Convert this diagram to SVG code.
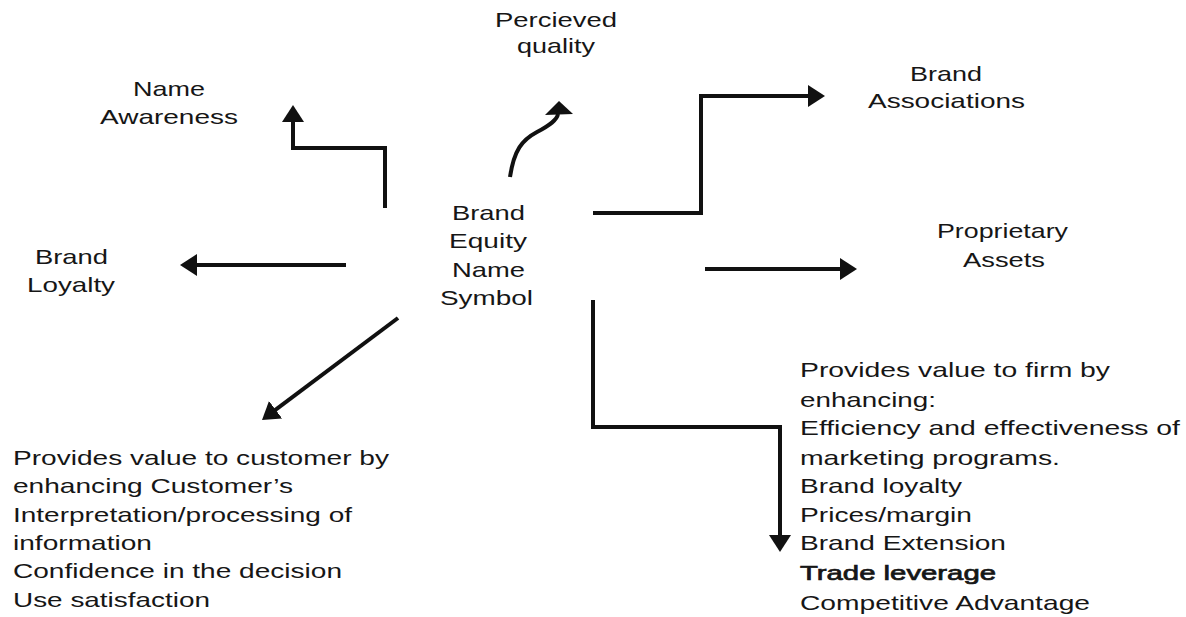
<svg xmlns="http://www.w3.org/2000/svg" width="1186" height="617" viewBox="0 0 1186 617">
<defs>
<style>
text{font-family:"Liberation Sans",Arial,sans-serif;font-size:21px;fill:#161616}
.b{stroke:#161616;stroke-width:0.7}
.c{fill:none;stroke:#111;stroke-width:4;stroke-linejoin:miter}
</style>
<marker id="ah" viewBox="0 0 17 22" markerWidth="17" markerHeight="22" refX="9" refY="11" markerUnits="userSpaceOnUse" orient="auto">
<path d="M0,0 L17,11 L0,22 z" fill="#111"/>
</marker>
</defs>
<rect width="1186" height="617" fill="#fff"/>
<g id="connectors">
<path class="c" d="M385,208 V148 H293 V113" marker-end="url(#ah)"/>
<path class="c" d="M510,177 C514,150 522,140 537,132 C550,125 557,120 558,114"/>
<polygon points="559,101 545,115 573,114" fill="#111"/>
<path class="c" d="M593,213 H701 V96 H817" marker-end="url(#ah)"/>
<path class="c" d="M705,269 H849" marker-end="url(#ah)"/>
<path class="c" d="M346,265 H188" marker-end="url(#ah)"/>
<path class="c" d="M398,318 L268.4,415.2" marker-end="url(#ah)"/>
<path class="c" d="M593,300 V427 H780 V544" marker-end="url(#ah)"/>
</g>
<g id="center">
<text x="452" y="220" textLength="73" lengthAdjust="spacingAndGlyphs">Brand</text>
<text x="449" y="248" textLength="78" lengthAdjust="spacingAndGlyphs">Equity</text>
<text x="452" y="277" textLength="73" lengthAdjust="spacingAndGlyphs">Name</text>
<text x="440" y="305" textLength="93" lengthAdjust="spacingAndGlyphs">Symbol</text>
</g>
<g id="name-awareness">
<text x="133" y="96" textLength="72" lengthAdjust="spacingAndGlyphs">Name</text>
<text x="100" y="124" textLength="138" lengthAdjust="spacingAndGlyphs">Awareness</text>
</g>
<g id="perceived-quality">
<text x="495" y="27" textLength="122" lengthAdjust="spacingAndGlyphs">Percieved</text>
<text x="517" y="53" textLength="78" lengthAdjust="spacingAndGlyphs">quality</text>
</g>
<g id="brand-associations">
<text x="910" y="81" textLength="72" lengthAdjust="spacingAndGlyphs">Brand</text>
<text x="868" y="108" textLength="157" lengthAdjust="spacingAndGlyphs">Associations</text>
</g>
<g id="proprietary-assets">
<text x="937" y="238" textLength="131" lengthAdjust="spacingAndGlyphs">Proprietary</text>
<text x="963" y="267" textLength="82" lengthAdjust="spacingAndGlyphs">Assets</text>
</g>
<g id="brand-loyalty">
<text x="35" y="264" textLength="73" lengthAdjust="spacingAndGlyphs">Brand</text>
<text x="27" y="292" textLength="88" lengthAdjust="spacingAndGlyphs">Loyalty</text>
</g>
<g id="customer-value">
<text x="13" y="465" textLength="376" lengthAdjust="spacingAndGlyphs">Provides value to customer by</text>
<text x="13" y="493" textLength="280" lengthAdjust="spacingAndGlyphs">enhancing Customer’s</text>
<text x="13" y="522" textLength="339" lengthAdjust="spacingAndGlyphs">Interpretation/processing of</text>
<text x="13" y="550" textLength="139" lengthAdjust="spacingAndGlyphs">information</text>
<text x="13" y="578" textLength="329" lengthAdjust="spacingAndGlyphs">Confidence in the decision</text>
<text x="13" y="607" textLength="197" lengthAdjust="spacingAndGlyphs">Use satisfaction</text>
</g>
<g id="firm-value">
<text x="800" y="377" textLength="310" lengthAdjust="spacingAndGlyphs">Provides value to firm by</text>
<text x="800" y="407" textLength="136" lengthAdjust="spacingAndGlyphs">enhancing:</text>
<text x="800" y="435" textLength="380" lengthAdjust="spacingAndGlyphs">Efficiency and effectiveness of</text>
<text x="800" y="465" textLength="260" lengthAdjust="spacingAndGlyphs">marketing programs.</text>
<text x="800" y="493" textLength="162" lengthAdjust="spacingAndGlyphs">Brand loyalty</text>
<text x="800" y="522" textLength="172" lengthAdjust="spacingAndGlyphs">Prices/margin</text>
<text x="800" y="550" textLength="206" lengthAdjust="spacingAndGlyphs">Brand Extension</text>
<text class="b" x="800" y="580" textLength="196" lengthAdjust="spacingAndGlyphs">Trade leverage</text>
<text x="800" y="610" textLength="290" lengthAdjust="spacingAndGlyphs">Competitive Advantage</text>
</g>
</svg>
